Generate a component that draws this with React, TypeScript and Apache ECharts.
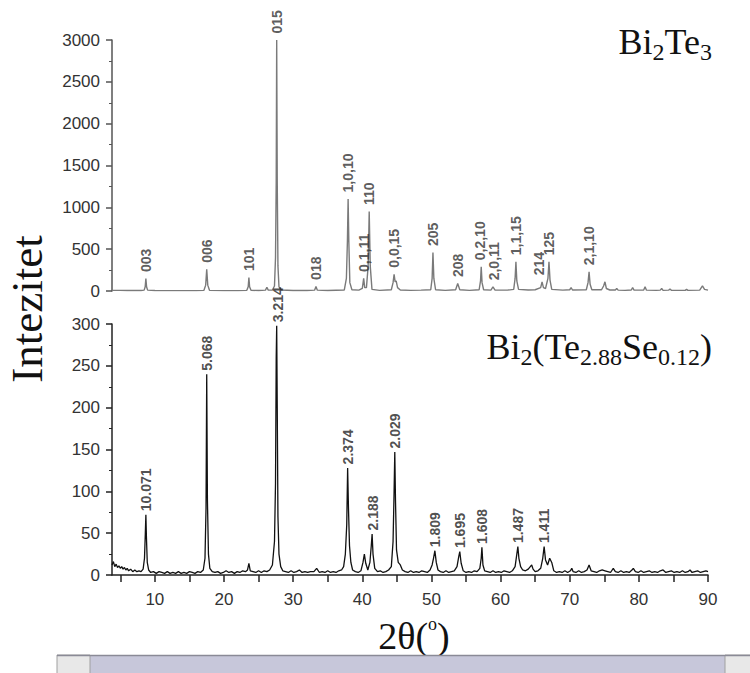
import React, { useEffect, useRef } from 'react';
import * as echarts from 'echarts';

// Bi2Te3 pattern: [2θ, intensity]
const topPattern: number[][] = [
  [3.8, 8], [5, 7], [6, 6], [7, 6], [8, 6], [8.45, 10], [8.6, 50], [8.7, 150], [8.8, 50], [8.95, 10],
  [10, 6], [12, 5], [14, 5], [16, 5], [17.1, 8], [17.35, 70], [17.5, 260], [17.65, 70], [17.9, 8],
  [20, 5], [22, 5], [23.3, 8], [23.5, 50], [23.6, 160], [23.7, 50], [23.9, 8], [25, 6], [26.0, 10],
  [26.2, 45], [26.4, 10], [27.0, 12], [27.3, 60], [27.45, 400], [27.55, 1300], [27.62, 3000],
  [27.7, 1300], [27.8, 300], [27.95, 50], [28.3, 12], [30, 6], [32, 6], [33.1, 10], [33.3, 55],
  [33.5, 10], [35, 6], [37.4, 12], [37.7, 150], [37.85, 600], [37.95, 1100], [38.05, 600],
  [38.2, 100], [38.5, 15], [39.5, 10], [40.0, 30], [40.2, 150], [40.35, 40], [40.6, 40],
  [40.85, 300], [41.0, 950], [41.15, 300], [41.4, 20], [42.5, 8], [44.2, 15], [44.45, 100],
  [44.6, 200], [44.75, 110], [44.9, 120], [45.1, 40], [45.5, 12], [47, 8], [48.5, 10], [49.9, 15],
  [50.1, 150], [50.22, 460], [50.35, 150], [50.6, 15], [52, 8], [53.5, 15], [53.8, 90], [54.1, 15],
  [55.5, 8], [56.9, 15], [57.1, 120], [57.2, 290], [57.32, 100], [57.55, 15], [58.6, 10],
  [58.9, 50], [59.2, 10], [61, 10], [61.9, 20], [62.1, 150], [62.22, 350], [62.35, 120],
  [62.6, 20], [64, 12], [65, 15], [65.8, 40], [66.0, 110], [66.2, 40], [66.5, 30], [66.85, 150],
  [67.0, 350], [67.15, 130], [67.4, 20], [69, 10], [70.0, 15], [70.2, 40], [70.4, 12], [72.4, 15],
  [72.65, 100], [72.8, 230], [72.95, 80], [73.2, 15], [74.6, 15], [74.9, 60], [75.1, 110],
  [75.3, 30], [75.8, 12], [76.6, 12], [76.8, 30], [77.0, 10], [78, 8], [78.9, 12], [79.1, 40],
  [79.3, 10], [80.7, 12], [80.9, 50], [81.1, 10], [82.5, 8], [83.1, 10], [83.3, 30], [83.5, 8],
  [84.3, 10], [84.5, 25], [84.7, 8], [86.7, 8], [86.9, 20], [87.1, 8], [88.8, 10], [89.2, 60],
  [89.5, 20], [90, 10],
];

// Bi2(Te2.88Se0.12) pattern: [2θ, intensity]
const bottomPattern: number[][] = [
  [3.8, 12], [4.0, 16], [4.2, 10], [4.4, 13], [4.6, 9], [4.8, 11], [5.0, 8], [5.2, 10], [5.4, 7],
  [5.6, 9], [5.8, 6], [6.0, 8], [6.2, 5], [6.5, 7], [6.8, 4], [7.1, 6], [7.4, 4], [7.7, 5], [8.0, 4],
  [8.3, 7], [8.5, 20], [8.62, 50], [8.7, 72], [8.78, 45], [8.9, 15], [9.1, 6], [9.4, 3], [9.8, 4],
  [10.2, 2], [10.6, 4], [11.0, 3], [11.4, 2], [11.8, 4], [12.2, 2], [12.6, 3], [13.0, 2], [13.4, 4],
  [13.8, 2], [14.2, 3], [14.6, 2], [15.0, 4], [15.4, 3], [15.8, 2], [16.2, 4], [16.6, 3], [17.0, 6],
  [17.25, 20], [17.4, 80], [17.5, 240], [17.6, 90], [17.75, 25], [17.95, 8], [18.3, 4], [18.7, 3],
  [19.1, 4], [19.5, 2], [19.9, 3], [20.3, 5], [20.7, 3], [21.1, 4], [21.5, 2], [21.9, 4], [22.3, 3],
  [22.7, 5], [23.1, 4], [23.4, 6], [23.6, 14], [23.8, 5], [24.2, 4], [24.6, 3], [25.0, 5], [25.4, 3],
  [25.8, 5], [26.2, 4], [26.6, 6], [27.0, 12], [27.3, 40], [27.45, 110], [27.55, 260], [27.62, 298],
  [27.7, 200], [27.8, 70], [27.95, 25], [28.2, 10], [28.5, 5], [28.9, 4], [29.3, 3], [29.7, 5],
  [30.1, 3], [30.5, 4], [30.9, 6], [31.3, 3], [31.7, 4], [32.1, 3], [32.5, 4], [33.0, 4], [33.4, 8],
  [33.8, 3], [34.2, 4], [34.6, 3], [35.0, 5], [35.4, 3], [35.8, 4], [36.2, 3], [36.6, 5], [37.0, 6],
  [37.3, 10], [37.55, 25], [37.75, 60], [37.88, 128], [38.0, 80], [38.15, 35], [38.35, 15],
  [38.6, 6], [39.0, 4], [39.4, 3], [39.8, 5], [40.1, 15], [40.3, 25], [40.5, 14], [40.8, 6],
  [41.1, 15], [41.3, 35], [41.42, 49], [41.55, 25], [41.8, 8], [42.2, 4], [42.6, 5], [43.0, 3],
  [43.4, 4], [43.8, 6], [44.2, 10], [44.45, 40], [44.6, 100], [44.7, 147], [44.8, 90], [44.95, 30],
  [45.2, 15], [45.5, 12], [45.8, 6], [46.2, 4], [46.6, 3], [47.0, 5], [47.4, 3], [47.8, 4],
  [48.2, 3], [48.6, 5], [49.0, 4], [49.4, 3], [49.8, 6], [50.1, 12], [50.3, 20], [50.5, 29],
  [50.7, 15], [50.95, 6], [51.3, 4], [51.7, 3], [52.1, 5], [52.5, 3], [52.9, 4], [53.3, 5],
  [53.7, 10], [53.95, 22], [54.1, 28], [54.3, 14], [54.6, 5], [55.0, 3], [55.4, 4], [55.8, 3],
  [56.2, 5], [56.6, 4], [57.0, 8], [57.2, 20], [57.3, 33], [57.45, 12], [57.7, 5], [58.1, 4],
  [58.5, 3], [58.9, 5], [59.3, 3], [59.7, 4], [60.1, 3], [60.5, 5], [60.9, 4], [61.3, 3], [61.7, 5],
  [62.1, 10], [62.35, 25], [62.5, 34], [62.65, 20], [62.9, 10], [63.2, 6], [63.6, 5], [64.0, 7],
  [64.3, 10], [64.5, 12], [64.7, 7], [65.0, 4], [65.4, 5], [65.8, 8], [66.1, 20], [66.3, 34],
  [66.5, 18], [66.8, 12], [67.1, 20], [67.4, 15], [67.7, 5], [68.1, 3], [68.5, 4], [68.9, 3],
  [69.3, 5], [69.7, 3], [70.1, 5], [70.3, 8], [70.5, 4], [70.9, 3], [71.3, 5], [71.7, 3], [72.1, 4],
  [72.5, 6], [72.8, 12], [73.1, 5], [73.5, 4], [73.9, 3], [74.3, 5], [74.7, 6], [75.1, 5], [75.5, 4],
  [75.9, 3], [76.3, 8], [76.6, 4], [77.0, 3], [77.4, 5], [77.8, 3], [78.2, 4], [78.6, 3], [79.0, 6],
  [79.2, 8], [79.5, 4], [79.9, 3], [80.3, 5], [80.7, 3], [81.1, 4], [81.5, 5], [81.9, 3], [82.3, 4],
  [82.7, 3], [83.1, 5], [83.5, 6], [83.9, 3], [84.3, 4], [84.7, 5], [85.1, 3], [85.5, 4], [85.9, 3],
  [86.3, 5], [86.7, 3], [87.1, 4], [87.4, 6], [87.7, 3], [88.1, 4], [88.5, 5], [88.9, 3], [89.3, 4],
  [89.7, 5], [90.0, 4],
];

// peak annotations: [label, 2θ, intensity]
const topPeakLabels: [string, number, number][] = [
  ['003', 8.7, 150], ['006', 17.5, 260], ['101', 23.6, 160], ['015', 27.62, 3000],
  ['018', 33.3, 55], ['1,0,10', 37.95, 1100], ['0,1,11', 40.2, 150], ['110', 41.0, 950],
  ['0,0,15', 44.6, 200], ['205', 50.22, 460], ['208', 53.8, 90], ['0,2,10', 57.0, 290],
  ['2,0,11', 59.0, 50], ['1,1,15', 62.22, 350], ['214', 65.6, 110], ['125', 67.0, 350],
  ['2,1,10', 72.8, 230],
];

const bottomPeakLabels: [string, number, number][] = [
  ['10.071', 8.7, 72], ['5.068', 17.5, 240], ['3.214', 27.8, 298], ['2.374', 37.88, 128],
  ['2.188', 41.6, 49], ['2.029', 44.7, 147], ['1.809', 50.5, 29], ['1.695', 54.1, 28],
  ['1.608', 57.3, 33], ['1.487', 62.5, 34], ['1.411', 66.3, 34],
];

const xTickValues = [5, 10, 15, 20, 25, 30, 35, 40, 45, 50, 55, 60, 65, 70, 75, 80, 85, 90];
const xLabelValues = [10, 20, 30, 40, 50, 60, 70, 80, 90];

const SANS = "'Liberation Sans', Arial, sans-serif";
const SERIF = "'Liberation Serif', 'Times New Roman', serif";

export default function App() {
  const ref = useRef<HTMLDivElement>(null);

  useEffect(() => {
    const chart = echarts.init(ref.current!, null, { renderer: 'svg' });

    const labelSeries = (idx: number, items: [string, number, number][], dist: number, color: string) => ({
      type: 'scatter',
      xAxisIndex: idx,
      yAxisIndex: idx,
      symbolSize: 1,
      silent: true,
      itemStyle: { color: 'rgba(0,0,0,0)' },
      data: items.map(([n, x, y]) => ({ name: n, value: [x, y] })),
      label: {
        show: true,
        position: 'top',
        distance: dist,
        rotate: 90,
        align: 'left',
        verticalAlign: 'middle',
        formatter: '{b}',
        fontSize: 14,
        fontWeight: 'bold',
        fontFamily: SANS,
        color,
      },
      z: 5,
    });

    const plain = (v: number) => String(v);

    chart.setOption({
      animation: false,
      backgroundColor: '#ffffff',
      grid: [
        { left: 112, right: 42, top: 40, height: 251 },
        { left: 112, right: 42, top: 324, height: 251 },
      ],
      xAxis: [
        { gridIndex: 0, type: 'value', min: 3.8, max: 90, show: false },
        {
          gridIndex: 1,
          type: 'value',
          min: 3.8,
          max: 90,
          axisLine: { show: true, onZero: false, lineStyle: { color: '#222', width: 1.5 } },
          axisTick: { show: true, length: 7, customValues: xTickValues, lineStyle: { color: '#222', width: 1.5 } },
          axisLabel: { customValues: xLabelValues, fontSize: 17, color: '#333', margin: 16, fontFamily: SANS, formatter: plain },
          splitLine: { show: false },
        },
      ],
      yAxis: [
        {
          gridIndex: 0,
          type: 'value',
          min: 0,
          max: 3000,
          interval: 500,
          axisLine: { show: true, lineStyle: { color: '#555', width: 1.5 } },
          axisTick: { show: true, length: 6, lineStyle: { color: '#555', width: 1.5 } },
          minorTick: { show: true, splitNumber: 2, length: 3, lineStyle: { color: '#555' } },
          axisLabel: { fontSize: 17, color: '#333', margin: 12, fontFamily: SANS, formatter: plain },
          splitLine: { show: false },
        },
        {
          gridIndex: 1,
          type: 'value',
          min: 0,
          max: 300,
          interval: 50,
          axisLine: { show: true, lineStyle: { color: '#222', width: 1.5 } },
          axisTick: { show: true, length: 6, lineStyle: { color: '#222', width: 1.5 } },
          minorTick: { show: true, splitNumber: 2, length: 3, lineStyle: { color: '#222' } },
          axisLabel: { fontSize: 17, color: '#333', margin: 12, fontFamily: SANS, formatter: plain },
          splitLine: { show: false },
        },
      ],
      series: [
        {
          type: 'line',
          xAxisIndex: 0,
          yAxisIndex: 0,
          data: topPattern,
          showSymbol: false,
          silent: true,
          lineStyle: { color: '#7a7a7a', width: 1.4 },
        },
        {
          type: 'line',
          xAxisIndex: 1,
          yAxisIndex: 1,
          data: bottomPattern,
          showSymbol: false,
          silent: true,
          lineStyle: { color: '#111', width: 1.3 },
        },
        labelSeries(0, topPeakLabels, 6, '#333'),
        labelSeries(1, bottomPeakLabels, 3, '#222'),
      ],
      graphic: [
        {
          type: 'text',
          x: 27,
          y: 309,
          rotation: Math.PI / 2,
          style: {
            text: 'Intezitet',
            fontSize: 45,
            fontFamily: SERIF,
            fill: '#111',
            align: 'center',
            verticalAlign: 'middle',
          },
        },
        {
          type: 'text',
          x: 712,
          y: 42,
          style: {
            text: '{a|Bi}{s|2}{a|Te}{s|3}',
            align: 'right',
            verticalAlign: 'middle',
            rich: {
              a: { fontSize: 36, fontFamily: SERIF, fill: '#111', lineHeight: 44 },
              s: { fontSize: 24, fontFamily: SERIF, fill: '#111', lineHeight: 24, verticalAlign: 'bottom' },
            },
          },
        },
        {
          type: 'text',
          x: 712,
          y: 347,
          style: {
            text: '{a|Bi}{s|2}{a|(Te}{s|2.88}{a|Se}{s|0.12}{a|)}',
            align: 'right',
            verticalAlign: 'middle',
            rich: {
              a: { fontSize: 36, fontFamily: SERIF, fill: '#111', lineHeight: 44 },
              s: { fontSize: 24, fontFamily: SERIF, fill: '#111', lineHeight: 24, verticalAlign: 'bottom' },
            },
          },
        },
        {
          type: 'text',
          x: 414,
          y: 636,
          style: {
            text: '{a|2θ(}{p|o}{a|)}',
            align: 'center',
            verticalAlign: 'middle',
            rich: {
              a: { fontSize: 38, fontFamily: SERIF, fill: '#111', lineHeight: 42 },
              p: { fontSize: 18, fontFamily: SERIF, fill: '#111', lineHeight: 22, verticalAlign: 'top' },
            },
          },
        },
        { type: 'rect', shape: { x: 57, y: 655, width: 693, height: 20 }, style: { fill: '#c7c7da' } },
        { type: 'rect', shape: { x: 57, y: 655, width: 33, height: 20 }, style: { fill: '#e8e8e8', stroke: '#a0a0a0', lineWidth: 1 } },
        { type: 'rect', shape: { x: 725, y: 655, width: 26, height: 20 }, style: { fill: '#e8e8e8', stroke: '#a0a0a0', lineWidth: 1 } },
        { type: 'line', shape: { x1: 57, y1: 655.5, x2: 750, y2: 655.5 }, style: { stroke: '#8a8a96', lineWidth: 1.5 } },
      ],
    });

    return () => chart.dispose();
  }, []);

  return (
    <div
      ref={ref}
      style={{ position: 'fixed', left: 0, top: 0, width: 750, height: 673, background: '#fff' }}
    />
  );
}
